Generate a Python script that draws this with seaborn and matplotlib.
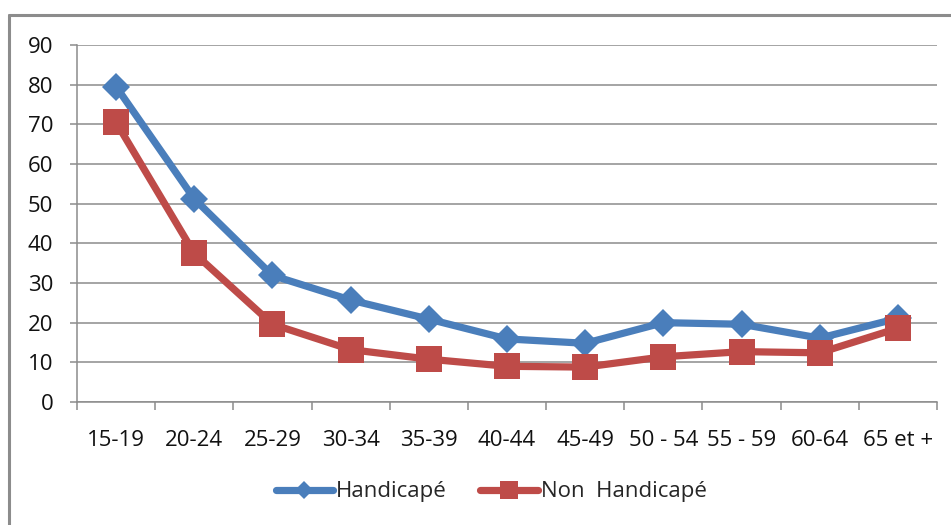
import matplotlib
matplotlib.use("Agg")
import matplotlib.pyplot as plt
from matplotlib.lines import Line2D
import seaborn as sns
import pandas as pd
import numpy as np

categories = ["15-19", "20-24", "25-29", "30-34", "35-39", "40-44", "45-49",
              "50 - 54", "55 - 59", "60-64", "65 et +"]
handicape = [79.5, 51.2, 31.9, 25.7, 20.9, 15.9, 14.8, 20.0, 19.6, 16.1, 21.1]
non_handicape = [70.5, 37.5, 19.6, 13.2, 10.8, 9.0, 8.8, 11.4, 12.7, 12.4, 18.6]
series_names = ["Handicapé", "Non  Handicapé"]
yticks = [0, 10, 20, 30, 40, 50, 60, 70, 80, 90]

sns.set_theme(style="white")
plt.rcParams["font.family"] = ["Open Sans", "DejaVu Sans"]

blue = "#4A7EBB"
red = "#BE4B48"
grid_c = "#8C8C8C"
fs = 16

df = pd.DataFrame({
    "pos": list(range(len(categories))) * 2,
    "val": handicape + non_handicape,
    "serie": [series_names[0]] * len(categories) + [series_names[1]] * len(categories),
})

fig = plt.figure(figsize=(9.51, 5.25), dpi=100)
ax = fig.add_axes([77 / 951, 1 - 402 / 525, 860 / 951, 357 / 525])

sns.lineplot(data=df[df.serie == series_names[0]], x="pos", y="val", ax=ax,
             color=blue, linewidth=5.2, marker="D", markersize=14,
             markeredgecolor=blue, markeredgewidth=0, legend=False, zorder=3)
sns.lineplot(data=df[df.serie == series_names[1]], x="pos", y="val", ax=ax,
             color=red, linewidth=5.2, marker="s", markersize=19,
             markeredgecolor=red, markeredgewidth=0, legend=False, zorder=4)

ax.set_xlim(-0.5, len(categories) - 0.5)
ax.set_ylim(0, 90)
ax.set_yticks(yticks)
ax.set_yticklabels([str(v) for v in yticks], fontsize=fs, color="#111111")
ax.yaxis.grid(True, color=grid_c, linewidth=1.1)
ax.xaxis.grid(False)
ax.set_axisbelow(True)

ax.set_xticks(np.arange(len(categories)))
ax.set_xticklabels(categories, fontsize=fs, color="#111111")
ax.set_xticks(np.arange(len(categories) + 1) - 0.5, minor=True)
ax.tick_params(axis="x", which="major", length=0, pad=20)
ax.tick_params(axis="x", which="minor", length=6, width=1.1, color=grid_c, direction="out", bottom=True)
ax.tick_params(axis="y", which="major", length=5, width=1.1, color=grid_c, direction="out", left=True, pad=12)
ax.set_xlabel("")
ax.set_ylabel("")

for s in ["top", "right"]:
    ax.spines[s].set_visible(False)
for s in ["left", "bottom"]:
    ax.spines[s].set_color(grid_c)
    ax.spines[s].set_linewidth(1.1)

handles = [
    Line2D([], [], color=blue, linewidth=5.2, marker="D", markersize=9, markeredgewidth=0),
    Line2D([], [], color=red, linewidth=5.2, marker="s", markersize=13, markeredgewidth=0),
]
fig.legend(handles, series_names, loc="center", bbox_to_anchor=(491 / 951, 1 - 492 / 525),
           ncol=2, frameon=False, fontsize=fs, handlelength=2.6, handletextpad=0.12,
           columnspacing=1.5)

# outer chart frame (top and left edges visible)
fig.add_artist(Line2D([9 / 951, 1.0], [1 - 15 / 525, 1 - 15 / 525], transform=fig.transFigure,
                      color="#8C8C8C", linewidth=2.2))
fig.add_artist(Line2D([9 / 951, 9 / 951], [0, 1 - 15 / 525], transform=fig.transFigure,
                      color="#8C8C8C", linewidth=2.2))

fig.savefig("out.png", dpi=100)
